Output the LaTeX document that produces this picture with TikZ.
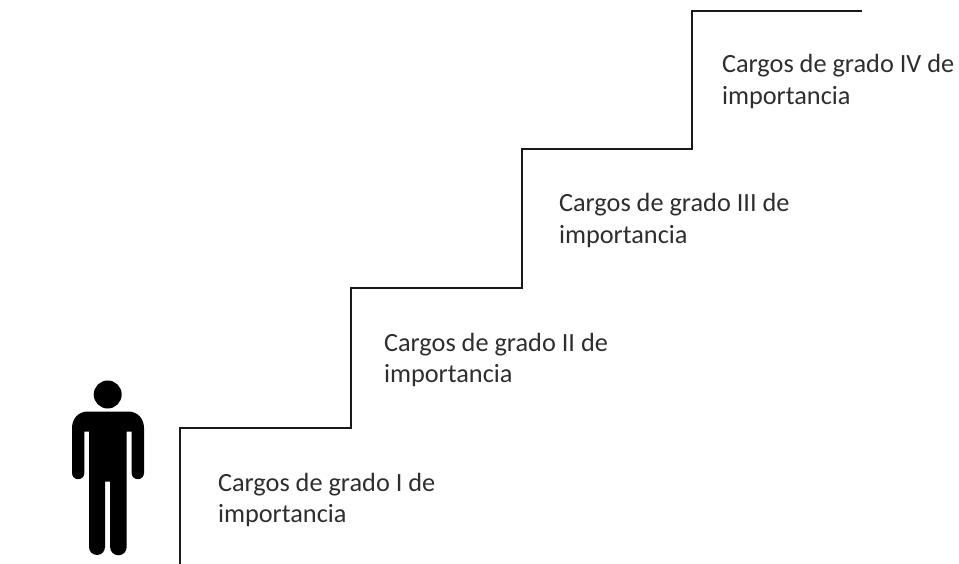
\documentclass[tikz,border=0pt]{standalone}
\usepackage{fontspec}
\setmainfont{Carlito}
\tikzset{
  x=1pt,y=-1pt,
  stair/.style={line width=2.6pt,draw=black!90,line join=miter},
  lbl/.style={anchor=base west,inner sep=0pt,outer sep=0pt,text=black!82,font=\fontsize{26.3}{26.3}\selectfont},
  person/.style={fill=black,draw=none}
}
\begin{document}
\begin{tikzpicture}
\useasboundingbox (0,0) rectangle (959,564);
\draw[stair] (180,566) -- (180,428) -- (351,428) -- (351,288) -- (522,288) -- (522,149) -- (692,149) -- (692,11) -- (862,11);
\node[lbl] (a1) at (218,491) {Cargos de grado I de};
\node[lbl] (a2) at (218,522.5) {importancia};
\node[lbl] (b1) at (384,351) {Cargos de grado II de};
\node[lbl] (b2) at (384,382.5) {importancia};
\node[lbl] (c1) at (559,212) {Cargos de grado III de};
\node[lbl] (c2) at (559,244) {importancia};
\node[lbl] (d1) at (722,73) {Cargos de grado IV de};
\node[lbl] (d2) at (722,105) {importancia};
\fill[person] (107.7,394.5) circle (14);
\fill[person] (88,411.5) -- (128,411.5)
  .. controls (138,411.5) and (144,419) .. (144,428)
  -- (144,473) arc[start angle=0,end angle=180,x radius=6.2,y radius=6.2]
  -- (131.6,431.7) -- (126.7,431.7) -- (126.7,547)
  arc[start angle=0,end angle=180,x radius=8.3,y radius=8.3]
  -- (110,481.7) -- (105,481.7) -- (105,547)
  arc[start angle=0,end angle=180,x radius=8,y radius=8]
  -- (89,431.7) -- (84.4,431.7) -- (84.4,473)
  arc[start angle=0,end angle=180,x radius=6.2,y radius=6.2]
  -- (72,428)
  .. controls (72,419) and (78,411.5) .. (88,411.5) -- cycle;
\end{tikzpicture}
\end{document}
